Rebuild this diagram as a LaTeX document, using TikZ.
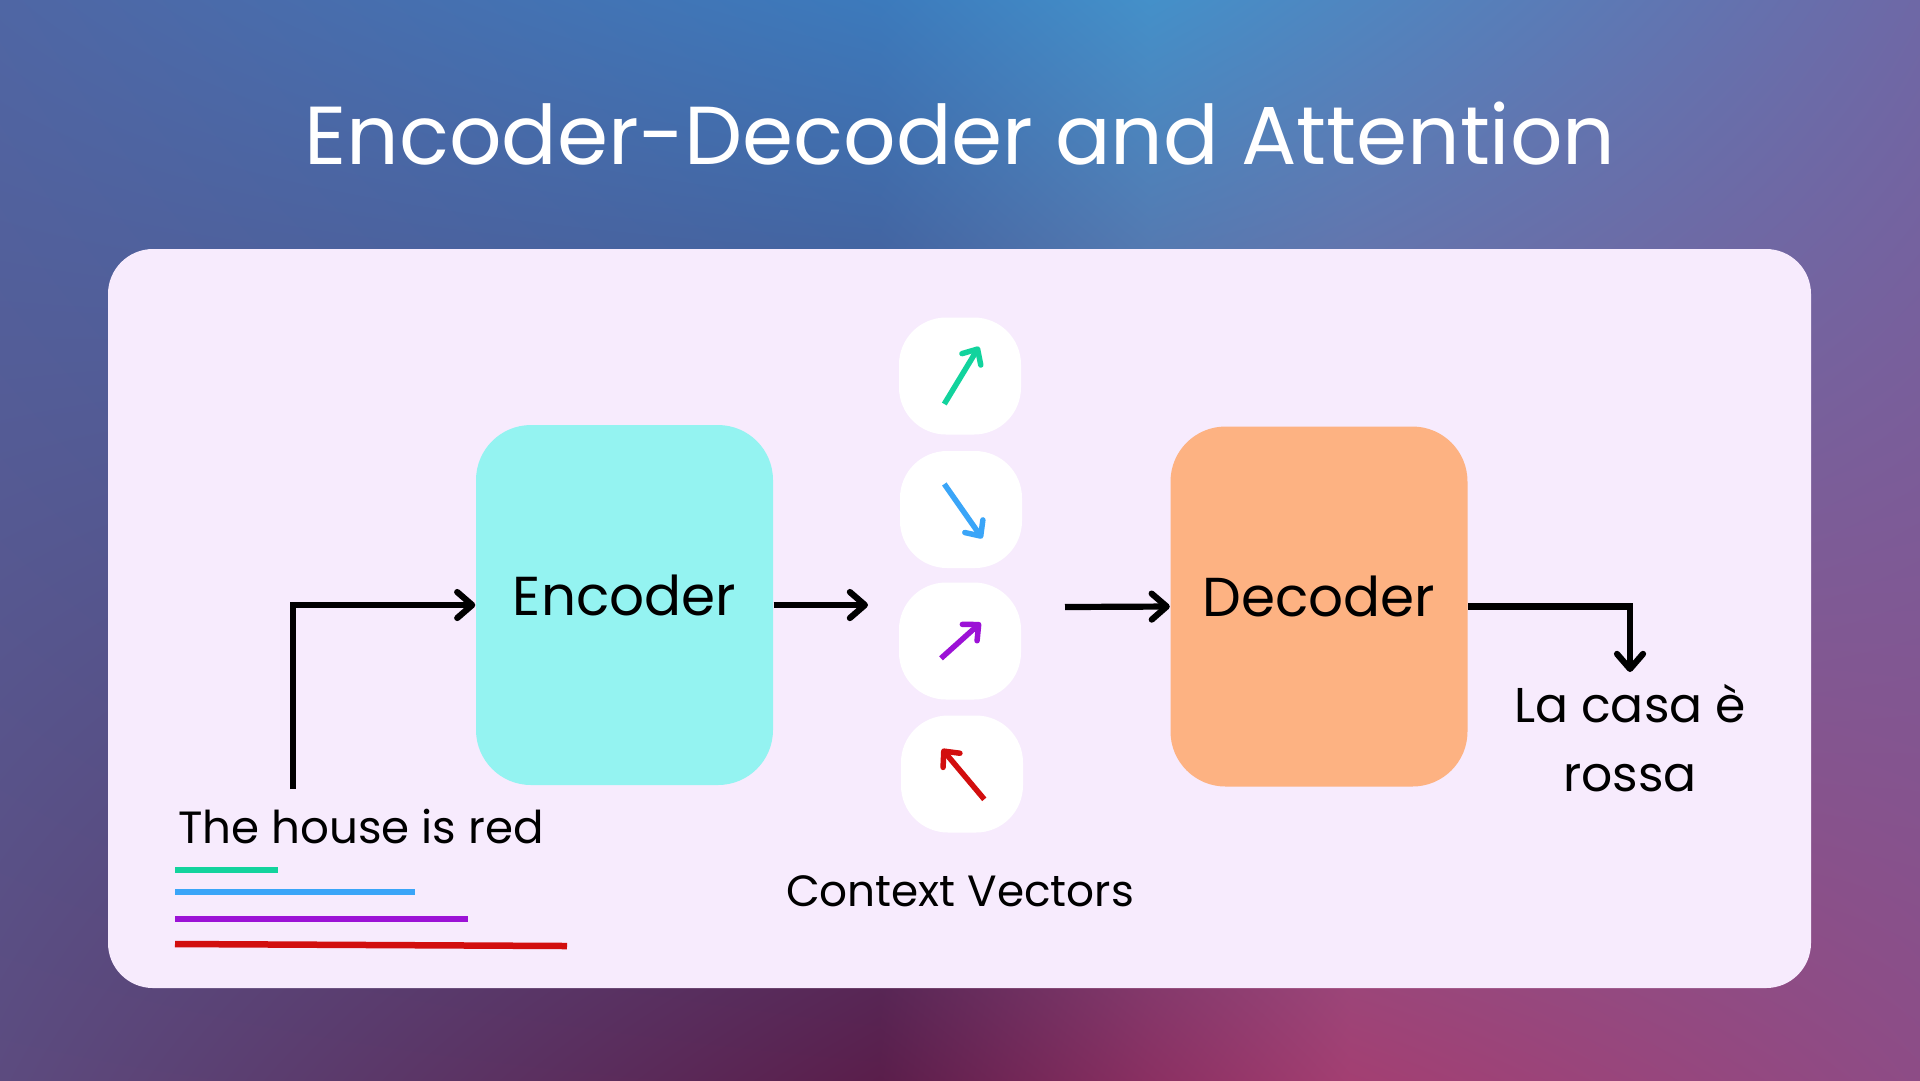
\documentclass[tikz,border=0pt]{standalone}
\usepackage{fontspec}
\setmainfont{Poppins}
\usetikzlibrary{arrows.meta,positioning,shadings}
\definecolor{panelBg}{HTML}{F7EBFD}
\definecolor{encFill}{HTML}{94F3F1}
\definecolor{decFill}{HTML}{FDB282}
\definecolor{vecGreen}{HTML}{12D39D}
\definecolor{vecBlue}{HTML}{3AA5F8}
\definecolor{vecPurple}{HTML}{9C12D6}
\definecolor{vecRed}{HTML}{D20E0E}
\definecolor{bgTopA}{HTML}{4F66A4}
\definecolor{bgTopB}{HTML}{3C7ABC}
\definecolor{bgTopC}{HTML}{4490C9}
\definecolor{bgTopD}{HTML}{4F86C0}
\definecolor{bgTopE}{HTML}{6E68A6}
\definecolor{bgBotA}{HTML}{5C4B7F}
\definecolor{bgBotB}{HTML}{5A1E4B}
\definecolor{bgBotC}{HTML}{8A3062}
\definecolor{bgBotD}{HTML}{A33F72}
\definecolor{bgBotE}{HTML}{8D4C86}
\tikzset{
  flowarrow/.style={line width=0.62mm,-{Straight Barb[length=1.5mm,width=2.6mm,line cap=round,line join=round]}},
  vecarrow/.style={line width=0.55mm,-{Straight Barb[length=1.2mm,width=2.2mm,line cap=round,line join=round]}},
  cvbox/.style={fill=white,rounded corners=4.7mm,minimum width=12.2mm,minimum height=11.7mm},
  bigbox/.style={rounded corners=5.5mm,minimum width=29.7mm,minimum height=36mm,text depth=2mm,font=\fontsize{15.6pt}{18pt}\selectfont},
  wordlabel/.style={font=\fontsize{12.85pt}{19.6pt}\selectfont},
}

\begin{document}
\begin{tikzpicture}[x=0.1mm,y=-0.1mm]
\useasboundingbox (0,0) rectangle (1920,1080);
% background
\shade[upper left=bgTopA,upper right=bgTopB,lower left=bgBotA,lower right=bgBotB] (0,0) rectangle (880,1080);
\shade[upper left=bgTopB,upper right=bgTopC,lower left=bgBotB,lower right=bgBotC] (880,0) rectangle (1150,1080);
\shade[upper left=bgTopC,upper right=bgTopD,lower left=bgBotC,lower right=bgBotD] (1150,0) rectangle (1350,1080);
\shade[upper left=bgTopD,upper right=bgTopE,lower left=bgBotD,lower right=bgBotE] (1350,0) rectangle (1920,1080);
\node[text=white,anchor=base,font=\fontsize{23.4pt}{28pt}\selectfont] (title) at (960,164) {Encoder-Decoder and Attention};
\fill[panelBg,rounded corners=4.5mm] (108,249) rectangle (1811,988);

\node[bigbox,fill=encFill] (enc) at (624.5,605) {Encoder};
\node[bigbox,fill=decFill] (dec) at (1319,606.5) {Decoder};

\node[cvbox] (cv1) at (960,376) {};
\node[cvbox] (cv2) at (961,509.5) {};
\node[cvbox] (cv3) at (960,641) {};
\node[cvbox] (cv4) at (962,774) {};
\draw[vecarrow,vecGreen] ([shift={(-15.7,28)}]cv1.center) -- ([shift={(19,-29.3)}]cv1.center);
\draw[vecarrow,vecBlue] ([shift={(-16.7,-25.5)}]cv2.center) -- ([shift={(21.3,28.8)}]cv2.center);
\draw[vecarrow,vecPurple] ([shift={(-19,17.3)}]cv3.center) -- ([shift={(20.7,-18.3)}]cv3.center);
\draw[vecarrow,vecRed] ([shift={(22.3,25.3)}]cv4.center) -- ([shift={(-20,-25)}]cv4.center);
\node[anchor=base,font=\fontsize{12.45pt}{14pt}\selectfont] (ctx) at (960,906) {Context Vectors};

\node[wordlabel,anchor=base] (inp) at (361,843) {The house is red};
\node[wordlabel,font=\fontsize{13.9pt}{19.6pt}\selectfont,align=center,anchor=north,inner sep=0pt,outer sep=1.2mm] (out) at (1630,672) {La casa è\\rossa};

% token lines
\draw[vecGreen,line width=0.6mm] (175,870) -- (278,870);
\draw[vecBlue,line width=0.6mm] (175,892) -- (415,892);
\draw[vecPurple,line width=0.6mm] (175,919) -- (468,919);
\draw[vecRed,line width=0.65mm] (175,944) -- (567,946);

\coordinate (inStart) at (293,789);
\coordinate (cvIn) at (868,605);
\coordinate (cvOut) at (1065,607);
\draw[flowarrow] (inStart) |- (enc.west);
\draw[flowarrow] (enc.east) -- (cvIn);
\draw[flowarrow] (cvOut) -- (dec.west);
\draw[flowarrow] (dec.east) -| (out.north);
\end{tikzpicture}
\end{document}
